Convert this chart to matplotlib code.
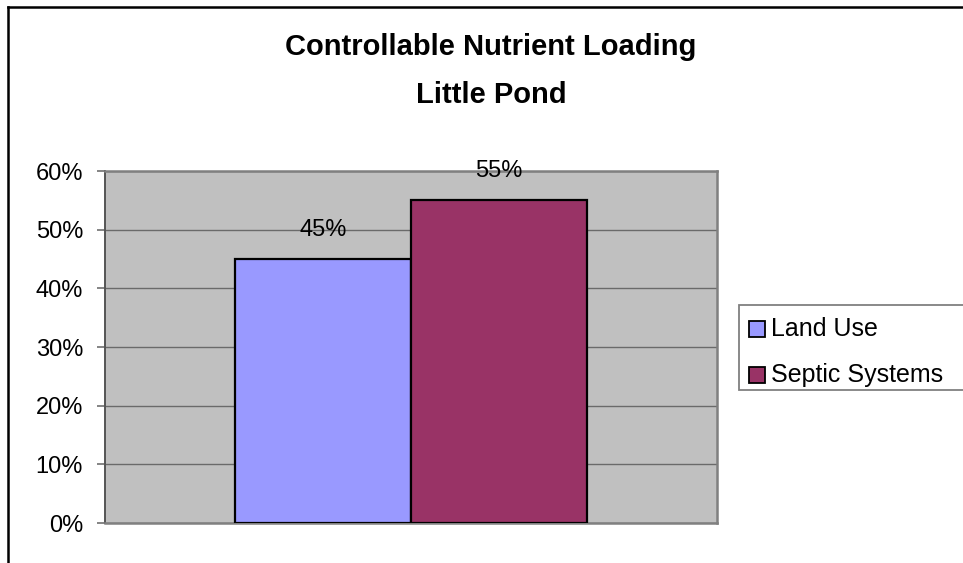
import matplotlib
matplotlib.use("Agg")
import matplotlib.pyplot as plt
from matplotlib.patches import Rectangle
from matplotlib.lines import Line2D

plt.rcParams['font.family'] = ['Liberation Sans', 'DejaVu Sans']

series = ["Land Use", "Septic Systems"]
values = [45, 55]
colors = ["#9999FF", "#993366"]
yticks = [0, 10, 20, 30, 40, 50, 60]
title_lines = ["Controllable Nutrient Loading", "Little Pond"]

W, H = 963, 563
fig = plt.figure(figsize=(W/100, H/100), dpi=100)
ax = fig.add_axes([105/W, 1-523/H, 612/W, 352/H])
ax.set_facecolor("#C0C0C0")

bw = 0.2876
offsets = [-bw/2, bw/2]
for s, v, c, o in zip(series, values, colors, offsets):
    ax.bar(o, v, width=bw, color=c, edgecolor="black", linewidth=1.6, zorder=3, label=s)
    ax.text(o, v + 5.0, f"{v}%", ha="center", va="center", fontsize=17, zorder=4)

ax.set_xlim(-0.5, 0.5)
ax.set_ylim(0, 60)
ax.set_yticks(yticks)
ax.set_yticklabels([f"{t}%" for t in yticks], fontsize=17)
ax.set_xticks([])
ax.yaxis.grid(True, color="#6a6a6a", linewidth=1, zorder=1)
ax.tick_params(axis="y", direction="out", length=5.8, width=1.2, color="#707070", pad=10)
for sp in ax.spines.values():
    sp.set_color("#808080")
    sp.set_linewidth(1.8)
ax.spines['left'].set_color("#555555")
ax.spines['left'].set_linewidth(1.4)

# title
fig.text(491/W, 1-55/H, title_lines[0], ha="center", va="baseline", fontsize=21,
         fontweight="bold")
fig.text(491/W, 1-103/H, title_lines[1], ha="center", va="baseline", fontsize=21,
         fontweight="bold")

# legend (extends past the right edge as in the reference)
fig.patches.append(Rectangle((739/W, 1-390/H), 260/W, 85/H, transform=fig.transFigure,
                             facecolor="white", edgecolor="#808080", linewidth=1.3))
for i, (s, c) in enumerate(zip(series, colors)):
    yc = 329 + i*46
    fig.patches.append(Rectangle((749/W, 1-(yc+8)/H), 16/W, 16/H, transform=fig.transFigure,
                                 facecolor=c, edgecolor="black", linewidth=1.3))
    fig.text(771/W, 1-yc/H, s, ha="left", va="center", fontsize=18)

# outer chart border (left and top visible)
fig.add_artist(Line2D([8/W, 8/W], [0, 1-7/H], transform=fig.transFigure,
                      color="black", linewidth=1.8))
fig.add_artist(Line2D([8/W, 1], [1-7/H, 1-7/H], transform=fig.transFigure,
                      color="black", linewidth=1.8))

fig.savefig("out.png", dpi=100)
